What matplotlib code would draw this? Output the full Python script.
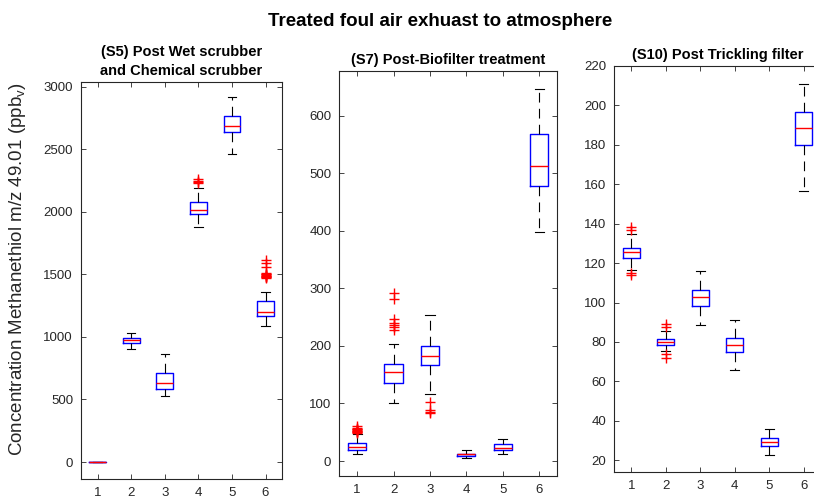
import matplotlib
matplotlib.use("Agg")
import matplotlib.pyplot as plt

plt.rcParams['font.family'] = ['Liberation Sans', 'DejaVu Sans']
plt.rcParams['lines.scale_dashes'] = False

# ---------------- data ----------------
positions = [1, 2, 3, 4, 5, 6]
xtick_labels = ['1', '2', '3', '4', '5', '6']

# Panel S5
s5_med = [0, 973, 631, 2017, 2686, 1196]
s5_q1 = [0, 954, 581, 1980, 2635, 1165]
s5_q3 = [0, 991, 709, 2076, 2763, 1284]
s5_wlo = [0, 906, 525, 1876, 2460, 1085]
s5_whi = [0, 1034, 861, 2193, 2918, 1356]
s5_fliers = [[], [], [], [2233, 2240, 2246, 2265], [],
             [1470, 1475, 1480, 1485, 1490, 1495, 1500, 1505, 1510, 1561, 1588, 1615]]
s5_yticks = [0, 500, 1000, 1500, 2000, 2500, 3000]

# Panel S7
s7_med = [25, 155, 183, 11.6, 23, 512]
s7_q1 = [20, 135, 166, 8.7, 19, 477]
s7_q3 = [32, 169, 200, 13, 29, 568]
s7_wlo = [13, 100, 117, 4.6, 12, 398]
s7_whi = [47, 203, 254, 19, 38, 647]
s7_fliers = [[48, 50, 51, 52, 53, 54, 55, 56, 57, 61],
             [227, 233, 236, 239, 246, 281, 291],
             [83, 85, 88, 102], [], [], []]
s7_yticks = [0, 100, 200, 300, 400, 500, 600]

# Panel S10
s10_med = [125.4, 80.2, 102.9, 78.5, 29.3, 188.4]
s10_q1 = [122.5, 78.5, 98.2, 74.8, 27.3, 179.9]
s10_q3 = [127.8, 81.6, 106.3, 81.9, 31.3, 196.5]
s10_wlo = [116.4, 75.5, 88.4, 66.0, 22.9, 156.5]
s10_whi = [134.6, 85.5, 116.0, 91.4, 35.9, 210.9]
s10_fliers = [[113.9, 114.8, 136.8, 138.4], [72.1, 73.8, 87.7, 89.0], [], [], [], []]
s10_yticks = [20, 40, 60, 80, 100, 120, 140, 160, 180, 200, 220]

titles = ['(S5) Post Wet scrubber\nand Chemical scrubber',
          '(S7) Post-Biofilter treatment',
          '(S10) Post Trickling filter']
suptitle = 'Treated foul air exhuast to atmosphere'
ylabel = r'Concentration Methanethiol m/z 49.01 (ppb$_\mathregular{v}$)'

# ---------------- figure ----------------
W, H = 814, 497
fig = plt.figure(figsize=(W / 100, H / 100), dpi=100)

def rect(l, r, t, b):
    return [l / W, (H - b) / H, (r - l) / W, (b - t) / H]

gray = '#262626'
panels = [
    (rect(80.7, 282.3, 81.7, 479.3), s5_med, s5_q1, s5_q3, s5_wlo, s5_whi, s5_fliers, s5_yticks, (-138, 3040)),
    (rect(339, 557.3, 70.7, 476), s7_med, s7_q1, s7_q3, s7_wlo, s7_whi, s7_fliers, s7_yticks, (-26, 678)),
    (rect(614, 821, 66, 472.3), s10_med, s10_q1, s10_q3, s10_wlo, s10_whi, s10_fliers, s10_yticks, (13.9, 220)),
]

for i, (r, med, q1, q3, wlo, whi, fl, yt, yl) in enumerate(panels):
    ax = fig.add_axes(r)
    stats = []
    for k in range(len(positions)):
        stats.append(dict(med=med[k], q1=q1[k], q3=q3[k], whislo=wlo[k],
                          whishi=whi[k], fliers=fl[k]))
    ax.bxp(stats, positions=positions, widths=0.5, capwidths=0.25,
           showfliers=True,
           boxprops=dict(color='#0000ff', linewidth=1.0),
           medianprops=dict(color='#ff0000', linewidth=1.0),
           whiskerprops=dict(color='black', linewidth=0.8, linestyle=(0, (7, 4.5))),
           capprops=dict(color='black', linewidth=0.8),
           flierprops=dict(marker='+', markeredgecolor='#ff0000', markersize=7,
                           markeredgewidth=1.0, linestyle='none'))
    ax.set_xlim(0.5, 6.5)
    ax.set_ylim(*yl)
    ax.set_xticks(positions)
    ax.set_xticklabels(xtick_labels)
    ax.set_yticks(yt)
    ax.tick_params(direction='in', length=3.5, width=0.6, colors=gray,
                   labelsize=9.5, top=True, right=True, pad=5.5)
    for s in ax.spines.values():
        s.set_color(gray)
        s.set_linewidth(0.8)
    ax.set_title(titles[i], fontsize=10.5, fontweight='bold', pad=5,
                 linespacing=1.45)

fig.text(440 / W, 1 - 21 / H, suptitle, ha='center', va='center',
         fontsize=13.5, fontweight='bold')
fig.text(18 / W, 1 - 269 / H, ylabel, rotation=90, ha='center', va='center',
         fontsize=13.5, color=gray)

fig.savefig('out.png', dpi=100)
